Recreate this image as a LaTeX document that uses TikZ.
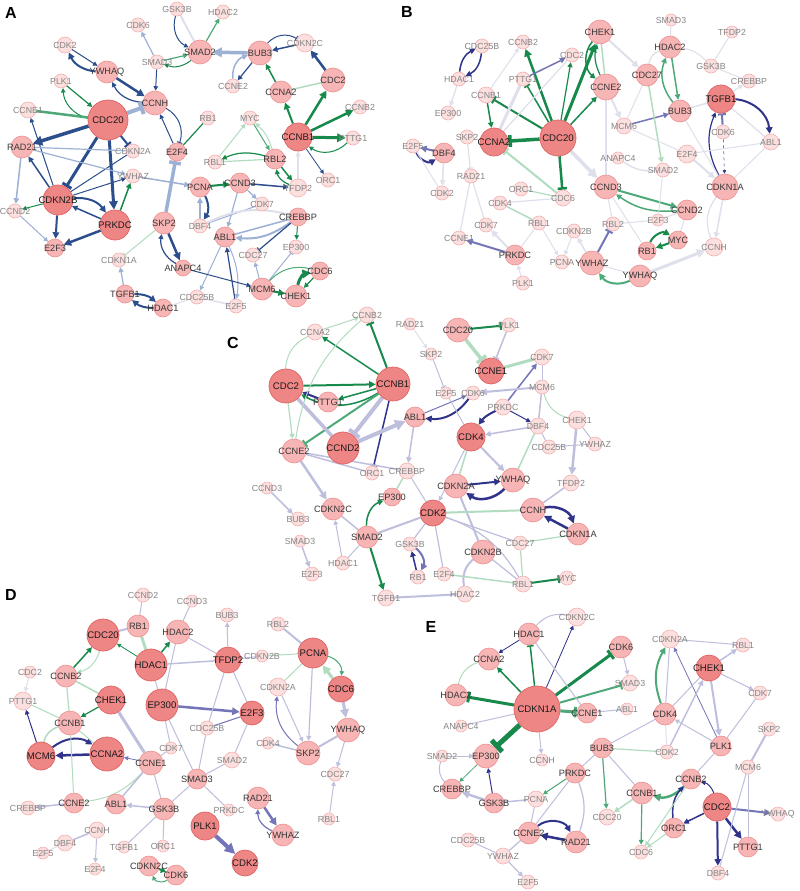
\documentclass[tikz,border=0pt]{standalone}
\usepackage{fontspec}
\setmainfont{Liberation Sans}
\usetikzlibrary{arrows.meta}
\definecolor{nLf}{HTML}{EF8686}\definecolor{nLd}{HTML}{DE6363}
\definecolor{nMf}{HTML}{F7B5B5}\definecolor{nMd}{HTML}{EE9090}
\definecolor{nSf}{HTML}{FCE0E0}\definecolor{nSd}{HTML}{F4B0B0}
\definecolor{tL}{HTML}{1A1A1A}\definecolor{tM}{HTML}{383838}\definecolor{tS}{HTML}{858585}
\definecolor{cDB}{HTML}{2C4E8C}\definecolor{cLB}{HTML}{9DB1D5}
\definecolor{cDG}{HTML}{17894A}\definecolor{cMG}{HTML}{4DAA78}\definecolor{cLG}{HTML}{B2DCC0}
\definecolor{cIN}{HTML}{2F338A}\definecolor{cMV}{HTML}{7375B8}\definecolor{cLV}{HTML}{BDBFDD}
\definecolor{cFA}{HTML}{DEE0EC}
\pgfdeclarelayer{bg}\pgfdeclarelayer{edges}\pgfsetlayers{bg,edges,main}
\newcommand\G[5]{\node[nd#1,minimum size=#5pt,label={[tx#1]center:#3}] (#2#3) at (#4) {};}
\tikzset{
 ndS/.style={circle,inner sep=0pt,fill=nSf,draw=nSd,line width=0.6pt},
 ndM/.style={circle,inner sep=0pt,fill=nMf,draw=nMd,line width=0.6pt},
 ndL/.style={circle,inner sep=0pt,fill=nLf,draw=nLd,line width=0.7pt},
 txS/.style={text=tS,font=\fontsize{8.8}{9}\selectfont,inner sep=0pt},
 txM/.style={text=tM,font=\fontsize{9.2}{9}\selectfont,inner sep=0pt},
 txL/.style={text=tL,font=\fontsize{9.6}{9}\selectfont,inner sep=0pt},
 panel/.style={font=\bfseries\fontsize{16}{16}\selectfont,inner sep=0pt},
 lw/.style={line width=#1pt},
 ar/.style={-{Triangle[length=2.5pt 2,width=2.5pt 2]}},
 br/.style={-{Bar[width=3pt 2.5]}},
 DB/.style={draw=cDB},LB/.style={draw=cLB},DG/.style={draw=cDG},MG/.style={draw=cMG},
 LG/.style={draw=cLG},IN/.style={draw=cIN},MV/.style={draw=cMV},LV/.style={draw=cLV},FA/.style={draw=cFA}
}
\begin{document}
\begin{tikzpicture}[x=1pt,y=-1pt]
\useasboundingbox (0,0) rectangle (800,891);
\begin{pgfonlayer}{bg}\fill[white] (0,0) rectangle (800,891);\end{pgfonlayer}
% ---------------- Panel A
\node[panel] (labA) at (11,13) {A};
\G{S}{a}{GSK3B}{177,9}{14}\G{S}{a}{CDK6}{138,25}{14}\G{M}{a}{SMAD2}{200,52}{24}
\G{S}{a}{SMAD3}{157,62}{14}\G{S}{a}{HDAC2}{223,12}{14}\G{M}{a}{BUB3}{260,53}{24}
\G{S}{a}{CDKN2C}{305,43}{18}\G{S}{a}{CCNE2}{233,86}{14}\G{M}{a}{CCNA2}{281,92}{22}
\G{M}{a}{CDC2}{333,80}{24}\G{S}{a}{CDK2}{65,45}{16}\G{M}{a}{YWHAQ}{107,72}{22}
\G{S}{a}{PLK1}{61,81}{14}\G{M}{a}{CCNH}{155,103}{24}\G{L}{a}{CDC20}{108,120}{40}
\G{S}{a}{CCNE1}{28,110}{16}\G{M}{a}{RAD21}{22,147}{22}\G{S}{a}{CDKN2A}{133,151}{14}
\G{M}{a}{E2F4}{177,152}{18}\G{S}{a}{RB1}{208,118}{14}\G{S}{a}{MYC}{250,118}{14}
\G{S}{a}{CCNB2}{360,107}{14}\G{L}{a}{CCNB1}{298,137}{28}\G{S}{a}{PTTG1}{353,138}{14}
\G{S}{a}{YWHAZ}{133,176}{14}\G{S}{a}{RBL1}{215,162}{14}\G{M}{a}{RBL2}{275,159}{20}
\G{S}{a}{ORC1}{328,180}{14}\G{S}{a}{TFDP2}{298,188}{18}\G{M}{a}{PCNA}{200,187}{20}
\G{M}{a}{CCND3}{240,183}{20}\G{L}{a}{CDKN2B}{58,200}{30}\G{S}{a}{CCND2}{15,211}{14}
\G{L}{a}{PRKDC}{115,225}{30}\G{M}{a}{SKP2}{164,223}{22}\G{S}{a}{DBF4}{200,226}{14}
\G{S}{a}{CDK7}{262,204}{14}\G{M}{a}{CREBBP}{298,217}{18}\G{M}{a}{ABL1}{225,237}{20}
\G{M}{a}{E2F3}{55,248}{18}\G{S}{a}{CDKN1A}{119,260}{14}\G{M}{a}{ANAPC4}{183,268}{16}
\G{S}{a}{EP300}{296,247}{14}\G{S}{a}{CDC27}{253,255}{14}\G{M}{a}{CDC6}{320,271}{18}
\G{M}{a}{MCM6}{262,289}{22}\G{M}{a}{CHEK1}{296,296}{22}\G{M}{a}{TGFB1}{125,294}{18}
\G{M}{a}{HDAC1}{163,308}{18}\G{S}{a}{CDC25B}{197,297}{14}\G{S}{a}{E2F5}{236,306}{14}
% ---------------- Panel B
\node[panel] (labB) at (407,12) {B};
\G{S}{b}{CDC25B}{482,46}{14}\G{S}{b}{CCNB2}{523,42}{14}\G{S}{b}{CDC2}{572,55}{14}
\G{M}{b}{CHEK1}{600,32}{24}\G{S}{b}{HDAC1}{459,79}{14}\G{S}{b}{PTTG1}{523,79}{14}
\G{S}{b}{CCNB1}{486,95}{16}\G{S}{b}{EP300}{448,113}{14}\G{L}{b}{CCNA2}{494,142}{28}
\G{L}{b}{CDC20}{558,138}{36}\G{S}{b}{SKP2}{467,137}{14}\G{S}{b}{E2F5}{413,146}{14}
\G{M}{b}{DBF4}{444,153}{20}\G{S}{b}{RAD21}{471,176}{14}\G{S}{b}{CDK2}{442,193}{14}
\G{S}{b}{ORC1}{521,189}{14}\G{S}{b}{CDC6}{563,198}{16}\G{S}{b}{CDK4}{500,203}{14}
\G{S}{b}{RBL1}{539,223}{14}\G{S}{b}{CDK7}{486,225}{14}\G{S}{b}{CDKN2B}{574,231}{14}
\G{S}{b}{CCNE1}{459,238}{14}\G{M}{b}{PRKDC}{515,255}{20}\G{S}{b}{PCNA}{562,262}{14}
\G{M}{b}{YWHAZ}{592,263}{24}\G{S}{b}{PLK1}{523,283}{14}\G{S}{b}{SMAD3}{671,20}{12}
\G{S}{b}{TFDP2}{732,32}{12}\G{M}{b}{HDAC2}{670,47}{22}\G{S}{b}{GSK3B}{711,66}{14}
\G{M}{b}{CDC27}{647,75}{22}\G{M}{b}{CCNE2}{606,87}{26}\G{S}{b}{CREBBP}{749,81}{14}
\G{L}{b}{TGFB1}{721,99}{28}\G{M}{b}{BUB3}{680,111}{22}\G{S}{b}{MCM6}{624,126}{16}
\G{S}{b}{CDK6}{723,132}{14}\G{S}{b}{ABL1}{771,142}{16}\G{S}{b}{E2F4}{687,154}{18}
\G{S}{b}{ANAPC4}{618,158}{12}\G{S}{b}{SMAD2}{663,170}{14}\G{M}{b}{CCND3}{606,187}{24}
\G{M}{b}{CDKN1A}{725,187}{26}\G{M}{b}{CCND2}{687,210}{20}\G{S}{b}{E2F3}{658,220}{12}
\G{S}{b}{RBL2}{613,224}{14}\G{M}{b}{MYC}{678,240}{18}\G{M}{b}{RB1}{647,251}{18}
\G{S}{b}{CCNH}{714,247}{18}\G{M}{b}{YWHAQ}{640,276}{22}
% ---------------- Panel C
\node[panel] (labC) at (233,343) {C};
\G{S}{c}{CCNB2}{367,315}{16}\G{S}{c}{CCNA2}{315,332}{16}\G{S}{c}{RAD21}{410,324}{12}
\G{M}{c}{CDC20}{458,330}{24}\G{S}{c}{PLK1}{509,325}{14}\G{S}{c}{SKP2}{431,354}{12}
\G{S}{c}{CDK7}{542,357}{16}\G{L}{c}{CCNE1}{491,371}{26}\G{L}{c}{CDC2}{286,386}{34}
\G{L}{c}{CCNB1}{393,384}{34}\G{M}{c}{PTTG1}{328,402}{20}\G{S}{c}{E2F5}{446,393}{12}
\G{S}{c}{CDK6}{473,393}{14}\G{S}{c}{MCM6}{542,387}{14}\G{S}{c}{PRKDC}{503,407}{16}
\G{M}{c}{ABL1}{415,417}{20}\G{S}{c}{CHEK1}{577,420}{18}\G{S}{c}{DBF4}{538,426}{16}
\G{L}{c}{CDK4}{471,437}{28}\G{S}{c}{CDC25B}{549,447}{14}\G{S}{c}{YWHAZ}{595,444}{14}
\G{L}{c}{CCND2}{343,448}{32}\G{M}{c}{CCNE2}{294,451}{24}\G{S}{c}{ORC1}{372,473}{14}
\G{S}{c}{CREBBP}{407,471}{16}\G{S}{c}{TFDP2}{571,483}{16}\G{M}{c}{YWHAQ}{513,480}{24}
\G{M}{c}{CDKN2A}{456,486}{24}\G{S}{c}{CCND3}{267,488}{12}\G{M}{c}{EP300}{392,497}{18}
\G{M}{c}{CDKN2C}{333,509}{22}\G{L}{c}{CDK2}{433,513}{26}\G{M}{c}{CCNH}{533,510}{24}
\G{S}{c}{BUB3}{298,519}{14}\G{M}{c}{CDKN1A}{578,534}{22}\G{M}{c}{SMAD2}{367,537}{22}
\G{S}{c}{SMAD3}{300,541}{12}\G{S}{c}{GSK3B}{410,544}{14}\G{S}{c}{CDC27}{520,543}{14}
\G{M}{c}{CDKN2B}{483,552}{24}\G{S}{c}{HDAC1}{343,563}{14}\G{S}{c}{E2F3}{312,574}{14}
\G{S}{c}{RB1}{418,577}{14}\G{S}{c}{E2F4}{444,574}{14}\G{S}{c}{MYC}{567,578}{14}
\G{S}{c}{RBL1}{523,584}{16}\G{S}{c}{TGFB1}{386,598}{16}\G{S}{c}{HDAC2}{465,594}{16}
% ---------------- Panel D
\node[panel] (labD) at (11,595) {D};
\G{S}{d}{CCND2}{143,595}{14}\G{S}{d}{CCND3}{192,601}{12}\G{M}{d}{RB1}{138,626}{22}
\G{L}{d}{CDC20}{103,635}{32}\G{M}{d}{HDAC2}{178,632}{24}\G{L}{d}{HDAC1}{151,665}{32}
\G{S}{d}{CDC2}{30,672}{12}\G{M}{d}{CCNB2}{66,676}{22}\G{S}{d}{PTTG1}{23,701}{18}
\G{L}{d}{CHEK1}{111,700}{28}\G{L}{d}{EP300}{162,705}{32}\G{M}{d}{CCNB1}{70,723}{24}
\G{L}{d}{MCM6}{41,756}{28}\G{L}{d}{CCNA2}{107,754}{34}\G{M}{d}{CCNE1}{151,763}{24}
\G{S}{d}{CDK7}{171,748}{12}\G{S}{d}{CDC25B}{207,728}{14}\G{M}{d}{SMAD3}{197,779}{20}
\G{S}{d}{CREBBP}{28,808}{14}\G{M}{d}{CCNE2}{74,803}{20}\G{M}{d}{ABL1}{116,804}{20}
\G{M}{d}{GSK3B}{164,809}{22}\G{L}{d}{PLK1}{205,826}{28}\G{S}{d}{CCNH}{97,830}{16}
\G{S}{d}{DBF4}{65,843}{16}\G{S}{d}{TGFB1}{124,847}{12}\G{S}{d}{ORC1}{163,846}{12}
\G{S}{d}{E2F5}{43,853}{12}\G{S}{d}{E2F4}{95,869}{12}\G{M}{d}{CDKN2C}{149,866}{20}
\G{M}{d}{CDK6}{176,875}{20}\G{S}{d}{BUB3}{227,615}{14}\G{S}{d}{RBL2}{278,624}{14}
\G{L}{d}{TFDP2}{228,660}{26}\G{S}{d}{CDKN2B}{262,656}{12}\G{L}{d}{PCNA}{313,653}{30}
\G{S}{d}{CDKN2A}{278,687}{18}\G{L}{d}{CDC6}{341,689}{26}\G{L}{d}{E2F3}{252,713}{24}
\G{M}{d}{YWHAQ}{348,730}{24}\G{S}{d}{CDK4}{268,743}{12}\G{M}{d}{SKP2}{308,753}{24}
\G{S}{d}{SMAD2}{232,760}{16}\G{S}{d}{CDC27}{335,774}{14}\G{M}{d}{RAD21}{258,798}{22}
\G{S}{d}{PRKDC}{229,810}{12}\G{S}{d}{RBL1}{329,819}{12}\G{M}{d}{YWHAZ}{283,835}{22}
\G{L}{d}{CDK2}{245,863}{26}
% ---------------- Panel E
\node[panel] (labE) at (431,627) {E};
\G{S}{e}{CDKN2C}{577,617}{18}\G{M}{e}{HDAC1}{529,634}{22}\G{M}{e}{CCNA2}{489,659}{22}
\G{M}{e}{HDAC2}{456,695}{22}\G{L}{e}{CDKN1A}{537,709}{46}\G{M}{e}{CCNE1}{587,713}{20}
\G{S}{e}{ANAPC4}{461,726}{12}\G{M}{e}{EP300}{486,756}{24}\G{S}{e}{SMAD2}{442,756}{12}
\G{S}{e}{CCNH}{542,760}{12}\G{M}{e}{CREBBP}{452,789}{20}\G{M}{e}{PRKDC}{575,773}{20}
\G{S}{e}{PCNA}{536,799}{16}\G{M}{e}{GSK3B}{494,803}{20}\G{M}{e}{CCNE2}{529,833}{22}
\G{M}{e}{RAD21}{576,842}{22}\G{S}{e}{CDC25B}{468,840}{14}\G{S}{e}{YWHAZ}{503,856}{16}
\G{S}{e}{E2F5}{528,882}{14}\G{M}{e}{CDK6}{621,647}{22}\G{S}{e}{CDKN2A}{670,639}{18}
\G{S}{e}{RBL1}{743,645}{14}\G{L}{e}{CHEK1}{709,668}{26}\G{S}{e}{SMAD3}{630,683}{16}
\G{S}{e}{CDK7}{760,693}{14}\G{S}{e}{ABL1}{627,709}{12}\G{M}{e}{CDK4}{665,714}{22}
\G{S}{e}{SKP2}{769,729}{14}\G{M}{e}{BUB3}{602,748}{20}\G{S}{e}{CDK2}{667,752}{14}
\G{M}{e}{PLK1}{721,746}{20}\G{S}{e}{MCM6}{748,767}{14}\G{M}{e}{CCNB2}{691,779}{20}
\G{M}{e}{CCNB1}{642,793}{22}\G{L}{e}{CDC2}{717,807}{28}\G{S}{e}{YWHAQ}{778,814}{14}
\G{S}{e}{CDC20}{607,817}{16}\G{M}{e}{ORC1}{674,828}{20}\G{M}{e}{PTTG1}{748,847}{20}
\G{S}{e}{CDC6}{641,852}{14}\G{S}{e}{DBF4}{718,873}{14}
% ================= EDGES
\begin{pgfonlayer}{edges}
% A
\path (aCDK2) edge[DB,ar,lw=1] (aYWHAQ)
 (aYWHAQ) edge[DB,ar,lw=2,bend left=30] (aCDK2)
 (aYWHAQ) edge[DB,ar,lw=2.5] (aCCNH)
 (aCCNH) edge[DB,ar,lw=1.2,bend left=30] (aYWHAQ)
 (aPLK1) edge[DG,ar,lw=1.2] (aCDC20)
 (aCDC20) edge[DG,ar,lw=1,bend left=35] (aPLK1)
 (aCDC20) edge[MG,lw=2.5] (aCCNE1)
 (aCDC20) edge[LB,br,lw=4] (aCCNH)
 (aCDC20) edge[DB,ar,lw=3.5] (aRAD21)
 (aCDC20) edge[DB,br,lw=2] (aCDKN2A)
 (aCDC20) edge[DB,br,lw=3] (aCDKN2B)
 (aCDC20) edge[DB,ar,lw=3] (aPRKDC)
 (aCDKN2B) edge[DB,ar,lw=1.5] (aRAD21)
 (aCDKN2B) edge[DB,ar,lw=1] (aCCNE1)
 (aCDKN2B) edge[DB,lw=1] (aCDKN2A)
 (aCDKN2B) edge[DB,ar,lw=1] (aYWHAZ)
 (aCDKN2B) edge[DB,ar,lw=2,bend left=30] (aPRKDC)
 (aPRKDC) edge[DB,ar,lw=1.5] (aCDKN2B)
 (aPRKDC) edge[DG,ar,lw=1.5] (aYWHAZ)
 (aPRKDC) edge[DB,ar,lw=2.5] (aE2F3)
 (aCDKN2B) edge[DB,ar,lw=2] (aE2F3)
 (aCDKN2B) edge[DG,ar,lw=1] (aCCND2)
 (aRAD21) edge[LB,ar,lw=1.5] (aCCND2)
 (aCCND2) edge[LB,ar,lw=1] (aE2F3)
 (aRAD21) edge[LB,lw=1.2] (aCDKN2A)
 (aRAD21) edge[LB,ar,lw=1.2] (aYWHAZ)
 (aYWHAZ) edge[LB,ar,lw=1.5] (aPCNA)
 (aSKP2) edge[LB,br,lw=3.5] (aE2F4)
 (aSKP2) edge[LG,br,lw=1] (aCDKN1A)
 (aSKP2) edge[DB,ar,lw=2.5] (aANAPC4)
 (aANAPC4) edge[DB,ar,lw=1.2,bend left=35] (aSKP2)
 (aCCNH) edge[DB,br,lw=1,bend left=40] (aE2F4)
 (aE2F4) edge[DB,ar,lw=1] (aCCNH)
 (aE2F4) edge[DG,lw=1.2] (aRB1)
 (aSMAD3) edge[LB,ar,lw=1.2] (aCDK6)
 (aSMAD3) edge[DB,ar,lw=1] (aCCNH)
 (aSMAD3) edge[MG,ar,lw=1.2] (aSMAD2)
 (aSMAD2) edge[DG,ar,lw=1,bend left=30] (aSMAD3)
 (aGSK3B) edge[DB,ar,lw=1,bend right=40] (aSMAD2)
 (aGSK3B) edge[FA,lw=2] (aSMAD2)
 (aSMAD2) edge[MG,ar,lw=1.2] (aHDAC2)
 (aBUB3) edge[LB,ar,lw=3.5] (aSMAD2)
 (aBUB3) edge[DB,ar,lw=1.2] (aCCNE2)
 (aCCNE2) edge[LB,ar,lw=1.5,bend left=40] (aBUB3)
 (aCDKN2C) edge[DB,ar,lw=1.5] (aBUB3)
 (aBUB3) edge[DB,br,lw=1,bend left=40] (aCDKN2C)
 (aCDC2) edge[DB,ar,lw=2.5] (aCDKN2C)
 (aCCNA2) edge[DG,ar,lw=1.5] (aBUB3)
 (aCDC2) edge[LG,lw=1.5] (aCCNA2)
 (aCCNB1) edge[DG,ar,lw=2] (aCCNA2)
 (aCCNB1) edge[DG,ar,lw=2.5] (aCDC2)
 (aCCNB1) edge[DG,ar,lw=2.5] (aCCNB2)
 (aCCNB1) edge[DG,ar,lw=3] (aPTTG1)
 (aPTTG1) edge[DG,ar,lw=1,bend left=40] (aCCNB1)
 (aCCNB1) edge[DB,ar,lw=0.8] (aORC1)
 (aTFDP2) edge[FA,ar,lw=1.2] (aCCNB1)
 (aRBL2) edge[DG,ar,lw=1.5] (aTFDP2)
 (aTFDP2) edge[DG,ar,lw=1.2,bend left=30] (aRBL2)
 (aMYC) edge[MG,ar,lw=1] (aRBL2)
 (aRBL2) edge[LG,ar,lw=1,bend right=15] (aMYC)
 (aRBL1) edge[LG,ar,lw=1] (aMYC)
 (aRBL2) edge[DG,ar,lw=1.2,bend right=20] (aRBL1)
 (aRBL1) edge[LG,lw=1.2] (aRBL2)
 (aPCNA) edge[DG,ar,lw=2] (aCCND3)
 (aCCND3) edge[DB,ar,lw=1.5] (aTFDP2)
 (aCCND3) edge[LB,ar,lw=1.2] (aCDK7)
 (aCCND3) edge[LB,ar,lw=1.2] (aABL1)
 (aDBF4) edge[LB,ar,lw=1.5] (aPCNA)
 (aPCNA) edge[DB,ar,lw=2,bend left=30] (aDBF4)
 (aDBF4) edge[LB,lw=1] (aCDK7)
 (aDBF4) edge[FA,lw=2,bend left=20] (aCREBBP)
 (aCREBBP) edge[LB,lw=1.5] (aABL1)
 (aCREBBP) edge[LB,ar,lw=2,bend left=20] (aABL1)
 (aCREBBP) edge[DB,br,lw=1.2] (aCDC27)
 (aCREBBP) edge[DG,ar,lw=1] (aEP300)
 (aABL1) edge[LB,ar,lw=1] (aCDC25B)
 (aABL1) edge[LB,ar,lw=1,bend left=15] (aE2F5)
 (aE2F5) edge[DB,ar,lw=1.2] (aABL1)
 (aANAPC4) edge[DB,ar,lw=1] (aMCM6)
 (aMCM6) edge[LB,ar,lw=1] (aCDC27)
 (aMCM6) edge[LB,br,lw=1] (aEP300)
 (aMCM6) edge[DG,ar,lw=2] (aCHEK1)
 (aCHEK1) edge[DG,ar,lw=3,bend left=35] (aCDC6)
 (aCDC6) edge[DG,ar,lw=1.2] (aCHEK1)
 (aMCM6) edge[MG,lw=1,bend left=30] (aCDC6)
 (aTGFB1) edge[LB,ar,lw=1.2] (aCDKN1A)
 (aTGFB1) edge[DB,ar,lw=2,bend left=20] (aHDAC1)
 (aHDAC1) edge[DB,ar,lw=2,bend left=20] (aTGFB1)
 (aHDAC1) edge[FA,lw=1] (aCDC25B)
 (aCDC25B) edge[FA,lw=1.5] (aE2F5);
% B
\path (bCDC25B) edge[IN,ar,lw=1.5,bend left=30] (bHDAC1)
 (bHDAC1) edge[IN,ar,lw=1.5,bend left=30] (bCDC25B)
 (bHDAC1) edge[FA,ar,lw=1.2] (bEP300)
 (bCDC20) edge[DG,ar,lw=2.5] (bCCNB2)
 (bCDC20) edge[DG,br,lw=1.5] (bPTTG1)
 (bCDC20) edge[DG,br,lw=2] (bCCNB1)
 (bCDC20) edge[DG,br,lw=3.5] (bCCNA2)
 (bCDC20) edge[DG,ar,lw=1.2] (bCDC2)
 (bCDC20) edge[DG,ar,lw=3] (bCHEK1)
 (bCDC20) edge[DG,br,lw=2.5] (bCDC6)
 (bCDC20) edge[DG,ar,lw=1.5] (bCCNE2)
 (bCCNB1) edge[DG,ar,lw=1.5] (bCCNA2)
 (bPTTG1) edge[MV,ar,lw=1.5] (bCDC2)
 (bCDC6) edge[LG,br,lw=2] (bCCNA2)
 (bCHEK1) edge[DG,ar,lw=1.5,bend right=45] (bCCNE2)
 (bCCNE2) edge[DG,ar,lw=1.2,bend left=20] (bCHEK1)
 (bCHEK1) edge[LG,lw=1.5] (bCCNE2)
 (bCHEK1) edge[FA,ar,lw=2] (bCDC27)
 (bHDAC2) edge[MG,ar,lw=1.5] (bBUB3)
 (bBUB3) edge[MG,ar,lw=1.5,bend left=30] (bHDAC2)
 (bMCM6) edge[MV,ar,lw=1.5] (bBUB3)
 (bTGFB1) edge[IN,ar,lw=2,bend left=40] (bABL1)
 (bCDK6) edge[MV,br,lw=2] (bTGFB1)
 (bCDKN1A) edge[IN,ar,lw=1.2,bend left=25] (bTGFB1)
 (bCDK6) edge[IN,dashed,ar,lw=0.5] (bCDKN1A)
 (bCCND3) edge[MG,ar,lw=2] (bCCND2)
 (bCCND2) edge[MG,ar,lw=1.5,bend left=20] (bCCND3)
 (bRB1) edge[DG,ar,lw=2,bend left=50] (bMYC)
 (bMYC) edge[DG,ar,lw=2] (bRB1)
 (bYWHAZ) edge[MV,br,lw=2] (bRBL2)
 (bYWHAQ) edge[MG,ar,lw=2,bend left=40] (bYWHAZ)
 (bYWHAQ) edge[FA,ar,lw=3] (bCCNH)
 (bDBF4) edge[MV,ar,lw=2] (bE2F5)
 (bE2F5) edge[IN,ar,lw=2,bend right=50] (bDBF4)
 (bPRKDC) edge[MV,ar,lw=2] (bCCNE1)
 (bSKP2) edge[FA,br,lw=1.2] (bRAD21)
 (bRAD21) edge[FA,lw=1.2] (bCCNE1)
 (bRAD21) edge[FA,lw=1.2] (bCDK7)
 (bPRKDC) edge[FA,ar,lw=2] (bCDK7)
 (bPLK1) edge[FA,ar,lw=1] (bPRKDC)
 (bPRKDC) edge[FA,lw=1] (bRBL1)
 (bRBL1) edge[FA,ar,lw=1] (bPCNA)
 (bCDK4) edge[LG,lw=1.5] (bRBL1)
 (bCDKN2B) edge[FA,ar,lw=1] (bPCNA)
 (bYWHAZ) edge[FA,ar,lw=1.5] (bCDKN2B)
 (bORC1) edge[LG,lw=1.2] (bCDC6)
 (bCDC20) edge[FA,ar,lw=3.5] (bCCND3)
 (bCCNA2) edge[FA,lw=3] (bPTTG1)
 (bCCNA2) edge[FA,lw=1.2] (bCDC2)
 (bCCNB1) edge[FA,ar,lw=1] (bCCNB2)
 (bDBF4) edge[FA,ar,lw=1.5] (bCDK2)
 (bE2F5) edge[FA,lw=1] (bCDK2)
 (bCDC6) edge[FA,lw=1.2] (bCDK4)
 (bCCNE2) edge[FA,ar,lw=2] (bMCM6)
 (bCCNE2) edge[FA,lw=1.2] (bCCND3)
 (bCDC27) edge[LG,ar,lw=1.5] (bSMAD2)
 (bCDC27) edge[FA,lw=1] (bMCM6)
 (bHDAC2) edge[FA,lw=1] (bSMAD3)
 (bHDAC2) edge[FA,lw=1,bend left=20] (bGSK3B)
 (bGSK3B) edge[FA,lw=1] (bTFDP2)
 (bGSK3B) edge[FA,lw=1] (bCREBBP)
 (bHDAC2) edge[FA,lw=1.2,bend right=30] (bCDC27)
 (bTGFB1) edge[FA,ar,lw=1] (bCREBBP)
 (bTGFB1) edge[FA,lw=1.5] (bBUB3)
 (bMCM6) edge[FA,lw=1] (bE2F4)
 (bE2F4) edge[FA,lw=1] (bABL1)
 (bE2F4) edge[FA,ar,lw=2] (bCDKN1A)
 (bBUB3) edge[FA,lw=1] (bCDKN1A)
 (bABL1) edge[FA,lw=1] (bCDKN1A)
 (bTGFB1) edge[FA,lw=1.2] (bABL1)
 (bANAPC4) edge[FA,lw=1.5,bend right=20] (bSMAD2)
 (bCCND3) edge[FA,lw=1] (bRBL2)
 (bCCND3) edge[FA,lw=1] (bRB1)
 (bE2F3) edge[FA,lw=1] (bSMAD2)
 (bE2F3) edge[FA,lw=1] (bCCND2)
 (bRBL2) edge[FA,lw=1] (bE2F3)
 (bCCND2) edge[FA,lw=1] (bMYC)
 (bCDKN1A) edge[FA,ar,lw=1.5] (bCCNH)
 (bCCNH) edge[FA,lw=1.2,bend left=30] (bCDKN1A)
 (bYWHAZ) edge[FA,lw=1] (bYWHAQ);
% C
\path (cCCNB1) edge[DG,br,lw=2] (cCCNB2)
 (cCCNB1) edge[DG,ar,lw=1.5] (cCCNA2)
 (cCDC2) edge[DG,ar,lw=2] (cCCNB1)
 (cCCNB1) edge[DG,ar,lw=1.5] (cPTTG1)
 (cCCNB1) edge[DG,ar,lw=1.5,bend left=30] (cCDC2)
 (cPTTG1) edge[IN,ar,lw=2] (cCDC2)
 (cCCNB1) edge[MG,br,lw=2] (cCCNE2)
 (cCCNB1) edge[LV,br,lw=4] (cCCND2)
 (cCCNB1) edge[IN,br,lw=1.5] (cORC1)
 (cCCND2) edge[LV,ar,lw=4] (cABL1)
 (cCDC2) edge[LV,lw=3.5] (cCCND2)
 (cCCNE2) edge[LV,ar,lw=2.5] (cCDKN2C)
 (cCCNE2) edge[LV,lw=1.5] (cORC1)
 (cCCNE2) edge[LV,lw=1.5] (cCREBBP)
 (cCDC2) edge[LG,ar,lw=1.2] (cCCNE2)
 (cCCNA2) edge[LG,ar,lw=1] (cCCNB2)
 (cCCNA2) edge[LG,lw=1,bend right=30] (cCDC2)
 (cCCNB2) edge[LG,lw=1,bend right=20] (cCCNE2)
 (cCDC20) edge[DG,br,lw=2] (cPLK1)
 (cCDC20) edge[LG,br,lw=3.5] (cCCNE1)
 (cPLK1) edge[LV,br,lw=1.5] (cCCNE1)
 (cCCNE1) edge[LG,lw=3] (cCDK7)
 (cPRKDC) edge[MV,ar,lw=1.5] (cCDK7)
 (cCDK6) edge[IN,ar,lw=2,bend left=30] (cABL1)
 (cABL1) edge[MV,ar,lw=1] (cCDK6)
 (cPRKDC) edge[IN,ar,lw=2,bend right=15] (cCDK4)
 (cPRKDC) edge[IN,ar,lw=1] (cDBF4)
 (cMCM6) edge[LV,ar,lw=2] (cCDK6)
 (cMCM6) edge[LV,lw=1.5] (cDBF4)
 (cMCM6) edge[LV,lw=1] (cCDK7)
 (cDBF4) edge[LV,ar,lw=1.5] (cCDK4)
 (cCHEK1) edge[LV,ar,lw=2.5] (cTFDP2)
 (cMCM6) edge[LG,lw=1,bend right=30] (cCHEK1)
 (cDBF4) edge[LG,lw=1.5] (cYWHAQ)
 (cCDKN2A) edge[IN,ar,lw=2] (cYWHAQ)
 (cYWHAQ) edge[IN,ar,lw=2.5,bend left=40] (cCDKN2A)
 (cCCNH) edge[IN,ar,lw=2.5,bend left=40] (cCDKN1A)
 (cCDKN1A) edge[IN,ar,lw=2.5] (cCCNH)
 (cSMAD2) edge[DG,ar,lw=1.5,bend left=35] (cEP300)
 (cSMAD2) edge[DG,ar,lw=2] (cTGFB1)
 (cRB1) edge[IN,ar,lw=1.5] (cGSK3B)
 (cGSK3B) edge[MV,ar,lw=2,bend left=40] (cRB1)
 (cRBL1) edge[DG,br,lw=2] (cMYC)
 (cCDK4) edge[LV,ar,lw=2] (cYWHAQ)
 (cRAD21) edge[FA,ar,lw=1] (cSKP2)
 (cSKP2) edge[LV,br,lw=1] (cE2F5)
 (cCDK4) edge[LG,lw=1.5] (cCDKN2A)
 (cCDKN2A) edge[LV,lw=2] (cCDKN2B)
 (cCDK2) edge[LG,lw=2] (cCCNH)
 (cCDK2) edge[LV,lw=1.2] (cGSK3B)
 (cCDK2) edge[LV,lw=1.2] (cE2F4)
 (cCDK2) edge[LV,lw=1.2] (cCDC27)
 (cCDK2) edge[LV,lw=1.2,bend left=20] (cRBL1)
 (cCDKN2B) edge[LV,lw=1.2] (cRBL1)
 (cCDKN2B) edge[LV,lw=2,bend right=30] (cHDAC2)
 (cRBL1) edge[LG,lw=1.2] (cCDC27)
 (cCDC27) edge[LG,lw=1.2] (cCDKN1A)
 (cTFDP2) edge[LV,lw=1.5] (cCCNH)
 (cDBF4) edge[LV,lw=1] (cCDC25B)
 (cCDC25B) edge[LV,lw=1] (cYWHAZ)
 (cCHEK1) edge[LV,lw=1] (cYWHAZ)
 (cABL1) edge[LV,ar,lw=1.5] (cCREBBP)
 (cCREBBP) edge[LG,lw=1.5] (cEP300)
 (cSMAD2) edge[LV,lw=1.5] (cCDKN2C)
 (cSMAD2) edge[LV,lw=1] (cHDAC1)
 (cHDAC1) edge[LV,ar,lw=1] (cCDKN2C)
 (cCCND3) edge[LV,ar,lw=1.5] (cBUB3)
 (cSMAD3) edge[LV,ar,lw=1.5] (cE2F3)
 (cSMAD2) edge[LV,lw=2] (cCDK2)
 (cE2F4) edge[LG,lw=1.5] (cRBL1)
 (cCREBBP) edge[LV,lw=1] (cCDK2)
 (cCDK4) edge[LV,ar,lw=1] (cCDK2)
 (cE2F5) edge[LV,lw=1] (cCDK4)
 (cHDAC2) edge[LV,lw=2] (cTGFB1);
% D
\path (dHDAC1) edge[DG,ar,lw=0.8] (dCDC20)
 (dHDAC1) edge[DG,ar,lw=1.5] (dHDAC2)
 (dRB1) edge[LG,lw=3] (dHDAC1)
 (dCCNB2) edge[DG,ar,lw=1.5] (dCDC20)
 (dCDC20) edge[LG,ar,lw=1,bend left=30] (dCCNB2)
 (dCHEK1) edge[DG,ar,lw=1.2] (dCCNB1)
 (dMCM6) edge[IN,ar,lw=1] (dPTTG1)
 (dMCM6) edge[IN,ar,lw=2,bend left=35] (dCCNA2)
 (dCCNA2) edge[IN,ar,lw=2.5] (dMCM6)
 (dCCNE1) edge[MV,ar,lw=0.8] (dCCNA2)
 (dEP300) edge[MV,ar,lw=2.5] (dE2F3)
 (dE2F3) edge[MV,lw=1] (dCDC25B)
 (dTFDP2) edge[LV,ar,lw=1] (dBUB3)
 (dPCNA) edge[MG,ar,lw=1,bend left=40] (dCDC6)
 (dCDC6) edge[LG,ar,lw=3] (dPCNA)
 (dSKP2) edge[MV,ar,lw=1,bend left=30] (dCDKN2A)
 (dPLK1) edge[MV,ar,lw=4] (dCDK2)
 (dYWHAZ) edge[MV,ar,lw=1.2,bend left=35] (dRAD21)
 (dRAD21) edge[MV,ar,lw=2.5] (dYWHAZ)
 (dCDKN2C) edge[DG,ar,lw=1.5] (dCDK6)
 (dCDK6) edge[MG,ar,lw=1,bend left=50] (dCDKN2C)
 (dGSK3B) edge[LV,ar,lw=1.5] (dABL1)
 (dCCNE2) edge[LV,ar,lw=1.5] (dCREBBP)
 (dCHEK1) edge[LV,lw=3] (dCCNE1)
 (dCCNB2) edge[LG,lw=1.2] (dCCNB1)
 (dCCNB2) edge[LG,lw=1.5] (dCHEK1)
 (dCDC2) edge[FA,ar,lw=1] (dPTTG1)
 (dPTTG1) edge[LG,lw=1] (dCCNB1)
 (dCCNB1) edge[LG,lw=1.5,bend right=30] (dMCM6)
 (dCCNB1) edge[LG,lw=1] (dCCNA2)
 (dCCNE1) edge[LG,lw=1,bend left=20] (dCCNE2)
 (dCCNE1) edge[LV,lw=1.5] (dABL1)
 (dCCNE1) edge[LV,lw=1] (dCDK7)
 (dCCNE1) edge[LV,lw=1] (dGSK3B)
 (dGSK3B) edge[LV,lw=1] (dSMAD3)
 (dGSK3B) edge[LV,lw=1] (dORC1)
 (dGSK3B) edge[LV,lw=1] (dTGFB1)
 (dCCNH) edge[LV,lw=1.5] (dDBF4)
 (dCCNH) edge[LV,ar,lw=1] (dE2F4)
 (dDBF4) edge[FA,lw=1] (dE2F5)
 (dCCND2) edge[LV,lw=1] (dRB1)
 (dCCND3) edge[LV,lw=1] (dHDAC2)
 (dRB1) edge[LV,lw=2] (dCDC20)
 (dHDAC2) edge[LV,lw=1] (dEP300)
 (dHDAC1) edge[LV,lw=1] (dEP300)
 (dHDAC1) edge[LV,lw=1.5] (dTFDP2)
 (dHDAC2) edge[LV,lw=1] (dTFDP2)
 (dEP300) edge[LV,lw=1] (dCDK7)
 (dEP300) edge[LV,lw=1] (dSMAD3)
 (dTFDP2) edge[LV,lw=1] (dE2F3)
 (dTFDP2) edge[LV,lw=1] (dCDC25B)
 (dTFDP2) edge[LV,lw=1] (dCDKN2B)
 (dCDKN2B) edge[LG,lw=1] (dPCNA)
 (dRBL2) edge[LV,lw=2] (dPCNA)
 (dCDKN2A) edge[LG,lw=1] (dPCNA)
 (dCDKN2A) edge[LV,ar,lw=1] (dSKP2)
 (dPCNA) edge[LV,ar,lw=1.2] (dSKP2)
 (dSKP2) edge[LV,lw=2] (dYWHAQ)
 (dCDK4) edge[LV,lw=1.5] (dSKP2)
 (dYWHAQ) edge[LV,ar,lw=1] (dCDC27)
 (dRBL1) edge[LV,ar,lw=1] (dCDC27)
 (dCDC6) edge[LV,ar,lw=3] (dYWHAQ)
 (dE2F3) edge[LV,lw=1] (dSMAD2)
 (dSMAD2) edge[LV,lw=1] (dSMAD3)
 (dSMAD3) edge[LV,lw=1] (dPRKDC)
 (dSMAD3) edge[LV,lw=1] (dCDC25B)
 (dCCNE2) edge[LG,lw=1] (dCCNB1);
% E
\path (eCDKN1A) edge[DG,br,lw=1.5] (eHDAC1)
 (eCDKN1A) edge[DG,ar,lw=1.5] (eCCNA2)
 (eCDKN1A) edge[DG,br,lw=3] (eHDAC2)
 (eCDKN1A) edge[IN,ar,lw=0.8] (eCDKN2C)
 (eCDKN1A) edge[DG,br,lw=3] (eCDK6)
 (eCDKN1A) edge[MG,br,lw=2] (eSMAD3)
 (eCDKN1A) edge[MG,br,lw=3] (eCCNE1)
 (eCDKN1A) edge[DG,br,lw=5] (eEP300)
 (eCDKN1A) edge[LV,ar,lw=1] (eCCNH)
 (eANAPC4) edge[LV,lw=1] (eCDKN1A)
 (eHDAC1) edge[IN,ar,lw=0.8] (eCCNA2)
 (eGSK3B) edge[IN,ar,lw=1] (eEP300)
 (eEP300) edge[MG,ar,lw=0.8] (eCREBBP)
 (eGSK3B) edge[LV,ar,lw=2.5] (eCREBBP)
 (ePCNA) edge[LV,lw=1.5] (eGSK3B)
 (ePRKDC) edge[MG,ar,lw=1] (ePCNA)
 (eRAD21) edge[IN,ar,lw=2.5] (eCCNE2)
 (eCCNE2) edge[IN,ar,lw=2,bend left=50] (eRAD21)
 (eBUB3) edge[MG,ar,lw=1.2] (eCDC20)
 (eCCNB1) edge[MG,ar,lw=1.2] (eCDC6)
 (eCCNB1) edge[LG,ar,lw=1.5] (eCDC20)
 (eCCNB2) edge[MG,ar,lw=2.5,bend left=30] (eCCNB1)
 (eORC1) edge[IN,ar,lw=1.5,bend left=25] (eCCNB2)
 (eCDC2) edge[IN,ar,lw=1.5] (eORC1)
 (eCDC2) edge[IN,ar,lw=2] (eDBF4)
 (eCDC2) edge[IN,ar,lw=2.5] (ePTTG1)
 (eCDC2) edge[MV,ar,lw=2] (eYWHAQ)
 (eCDC2) edge[IN,ar,lw=1,bend right=30] (eCCNB2)
 (ePLK1) edge[MV,ar,lw=0.8] (eCDKN2A)
 (eCHEK1) edge[LV,ar,lw=2] (ePLK1)
 (eCDK4) edge[MG,ar,lw=2,bend left=25] (eCDKN2A)
 (eCDK2) edge[LV,ar,lw=1.5] (eCHEK1)
 (eCCNB2) edge[LG,ar,lw=1] (eCDC6)
 (eORC1) edge[LG,ar,lw=1] (eCDC6)
 (eHDAC1) edge[LV,lw=1,bend left=30] (eCDKN2C)
 (eCCNA2) edge[LG,lw=1,bend right=30] (eHDAC2)
 (eHDAC1) edge[LV,lw=1] (eCCNE1)
 (eSMAD2) edge[LV,ar,lw=1] (eEP300)
 (eSMAD2) edge[LV,lw=1,bend right=30] (eCREBBP)
 (eYWHAZ) edge[LV,lw=1] (eCDC25B)
 (eYWHAZ) edge[LV,ar,lw=1.2] (eE2F5)
 (eYWHAZ) edge[LV,lw=1.2] (eCCNE2)
 (ePCNA) edge[LV,lw=1] (eCCNE2)
 (ePRKDC) edge[LV,lw=1] (eCCNE2)
 (ePRKDC) edge[LV,lw=1.2,bend left=20] (eRAD21)
 (ePRKDC) edge[LV,lw=1] (eBUB3)
 (eBUB3) edge[LG,lw=1.2] (eCDK2)
 (eBUB3) edge[LV,lw=1] (eCCNB1)
 (eBUB3) edge[LV,lw=1] (eCDK4)
 (eCDK6) edge[LV,ar,lw=1] (eSMAD3)
 (eCDKN2A) edge[LV,lw=1] (eCDK4)
 (eCDKN2A) edge[LV,lw=1] (eRBL1)
 (eCHEK1) edge[LV,ar,lw=1.5] (eRBL1)
 (eCHEK1) edge[LV,ar,lw=1] (eCDK7)
 (eCHEK1) edge[LV,lw=1] (eCDK4)
 (eCDK4) edge[FA,lw=1] (eCDK2)
 (ePLK1) edge[LV,ar,lw=1] (eCDK4)
 (ePLK1) edge[LV,lw=1] (eCDK7)
 (ePLK1) edge[LV,lw=1] (eCCNB2)
 (eSKP2) edge[LV,lw=2] (eMCM6)
 (eMCM6) edge[LV,lw=1] (ePTTG1)
 (eMCM6) edge[LV,lw=1] (eDBF4)
 (eCCNE1) edge[LV,lw=1] (eABL1);
\end{pgfonlayer}
\end{tikzpicture}
\end{document}
